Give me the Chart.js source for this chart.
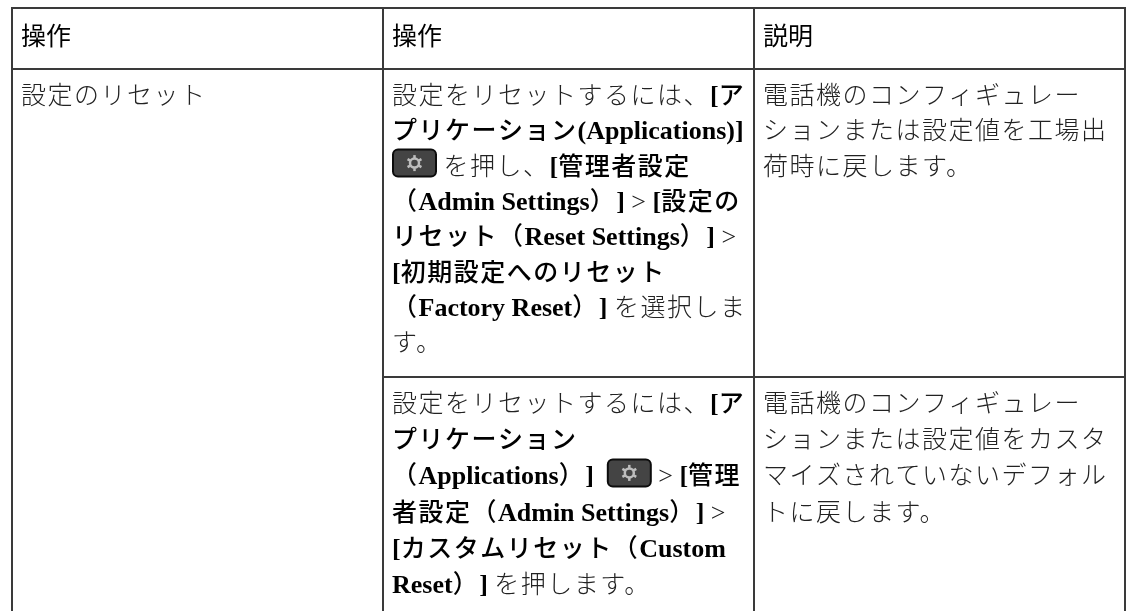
<!DOCTYPE html>
<html><head><meta charset="utf-8">
<style>html,body{margin:0;padding:0;background:#fff}canvas{display:block}</style>
<script src="https://cdn.jsdelivr.net/npm/chart.js@4"></script></head>
<body><div style="width:1126px;height:611px"><canvas id="c"></canvas></div>
<script>
// Table text; r = regular run, b = bold run, i = settings icon
const headers = ["操作","操作","説明"];
const col1Lines = [[["r","設定のリセット"]]];
const col2RowA = [
 [["r","設定をリセットするには、"],["b","[ア"]],
 [["b","プリケーション(Applications)]"]],
 [["i",""],["r"," を押し、"],["b","[管理者設定"]],
 [["b","（Admin Settings）]"],["r"," > "],["b","[設定の"]],
 [["b","リセット（Reset Settings）]"],["r"," >"]],
 [["b","[初期設定へのリセット"]],
 [["b","（Factory Reset）]"],["r"," を選択しま"]],
 [["r","す。"]]
];
const col2RowB = [
 [["r","設定をリセットするには、"],["b","[ア"]],
 [["b","プリケーション"]],
 [["b","（Applications）]"],["r","  "],["i",""],["r"," > "],["b","[管理"]],
 [["b","者設定（Admin Settings）]"],["r"," >"]],
 [["b","[カスタムリセット（Custom"]],
 [["b","Reset）]"],["r"," を押します。"]]
];
const col3RowA = [
 [["r","電話機のコンフィギュレー"]],
 [["r","ションまたは設定値を工場出"]],
 [["r","荷時に戻します。"]]
];
const col3RowB = [
 [["r","電話機のコンフィギュレー"]],
 [["r","ションまたは設定値をカスタ"]],
 [["r","マイズされていないデフォル"]],
 [["r","トに戻します。"]]
];
const colEdges = [12,383,754,1125];
const rowEdges = [8,69,377];
const pageH = 611;

const cjkReg = "300 25px 'Noto Sans CJK JP'";
const cjkBold = "500 25px 'Noto Sans CJK JP'";
const latReg = "26px 'Liberation Serif'";
const latBold = "bold 26px 'Liberation Serif'";
const headFont = "25px 'Noto Sans CJK JP'";
const lineA = 35.3, lineB = 36.2;

function rule(x1,y1,x2,y2){return {data:[{x:x1,y:y1},{x:x2,y:y2}],showLine:true,borderColor:'#3a3a3a',borderWidth:2,pointRadius:0,fill:false};}
const datasets = [
 rule(colEdges[0]-1,rowEdges[0],colEdges[3]+1,rowEdges[0]),
 rule(colEdges[0],rowEdges[1],colEdges[3],rowEdges[1]),
 rule(colEdges[1],rowEdges[2],colEdges[3],rowEdges[2]),
 rule(colEdges[0],rowEdges[0],colEdges[0],pageH),
 rule(colEdges[1],rowEdges[0],colEdges[1],pageH),
 rule(colEdges[2],rowEdges[0],colEdges[2],pageH),
 rule(colEdges[3],rowEdges[0],colEdges[3],pageH)
];

function drawIcon(ctx,x,cy){
 const w=45,h=27,y=cy-h/2;
 ctx.save();
 ctx.fillStyle='#444';ctx.strokeStyle='#0c0c0c';ctx.lineWidth=2;
 ctx.beginPath();ctx.roundRect(x+1,y,w-2,h,5);ctx.fill();ctx.stroke();
 const cx=x+w/2;
 ctx.strokeStyle='#bdbdbd';ctx.lineWidth=2.5;
 ctx.beginPath();ctx.arc(cx,cy,4.5,0,Math.PI*2);ctx.stroke();
 for(let k=0;k<6;k++){const a=k*Math.PI/3+Math.PI/6;
  ctx.beginPath();ctx.moveTo(cx+Math.cos(a)*5,cy+Math.sin(a)*5);ctx.lineTo(cx+Math.cos(a)*8,cy+Math.sin(a)*8);ctx.stroke();}
 ctx.restore();
}
function drawLines(ctx,sx,sy,lines,x0,y0,lh){
 lines.forEach((runs,i)=>{
  let x=sx.getPixelForValue(x0);
  const y=sy.getPixelForValue(y0+i*lh);
  runs.forEach(([k,t])=>{
   if(k==='i'){drawIcon(ctx,x,y-11.5);x+=45;return;}
   (t.match(/[\x00-\x7f]+|[^\x00-\x7f]+/g)||[]).forEach(seg=>{
    const lat=/^[\x00-\x7f]/.test(seg);
    ctx.font=lat?(k==='b'?latBold:latReg):(k==='b'?cjkBold:cjkReg);
    ctx.letterSpacing=lat?'0px':'1.5px';
    ctx.fillStyle=k==='b'?'#000':'#222';
    ctx.fillText(seg,x,y);x+=ctx.measureText(seg).width;
   });
  });
 });
 ctx.letterSpacing='0px';
}
const textPlugin={id:'tableText',afterDatasetsDraw(ch){
 const ctx=ch.ctx,sx=ch.scales.x,sy=ch.scales.y;
 ctx.save();ctx.textBaseline='alphabetic';ctx.textAlign='left';
 ctx.font=headFont;ctx.fillStyle='#000';
 headers.forEach((h,i)=>ctx.fillText(h,sx.getPixelForValue(colEdges[i]+9),sy.getPixelForValue(45)));
 drawLines(ctx,sx,sy,col1Lines,colEdges[0]+9,104,lineA);
 drawLines(ctx,sx,sy,col2RowA,colEdges[1]+9,104,lineA);
 drawLines(ctx,sx,sy,col3RowA,colEdges[2]+9,104,lineA);
 drawLines(ctx,sx,sy,col2RowB,colEdges[1]+9,412,lineB);
 drawLines(ctx,sx,sy,col3RowB,colEdges[2]+9,412,lineB);
 ctx.restore();
}};
new Chart(document.getElementById('c'),{type:'scatter',data:{datasets},plugins:[textPlugin],options:{
 responsive:true,maintainAspectRatio:false,animation:false,
 layout:{padding:0},
 plugins:{legend:{display:false},tooltip:{enabled:false}},
 scales:{
  x:{type:'linear',min:0,max:1126,display:false},
  y:{type:'linear',min:0,max:pageH,reverse:true,display:false}
 }}});
</script></body></html>
